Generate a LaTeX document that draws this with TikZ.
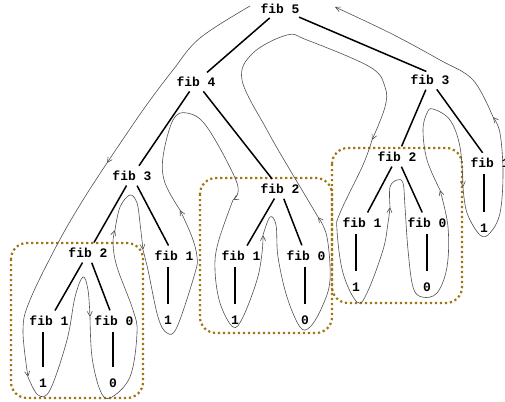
\documentclass[tikz,border=0pt]{standalone}
\usepackage{fontspec}
\newfontfamily\codefont{Liberation Mono}
\usetikzlibrary{arrows.meta}

\definecolor{boxgold}{RGB}{160,118,20}
\definecolor{tracegray}{RGB}{80,80,80}

\begin{document}
\begin{tikzpicture}[
        x=1pt, y=-1pt,
        call/.style={
            font=\codefont\bfseries\fontsize{13}{15}\selectfont,
            inner sep=2pt, text height=9.5pt, text depth=0pt
        },
        branch/.style={line width=1.5pt, shorten <=3pt, shorten >=4pt},
        stem/.style={line width=1.2pt, shorten <=4pt, shorten >=9pt},
        group/.style={draw=boxgold, line width=2.2pt,
            dash pattern=on 2.2pt off 2.8pt, rounded corners=16pt},
        trace/.style={draw=tracegray, line width=0.6pt,
            -{Straight Barb[length=5pt,width=5pt]}}
    ]
        \useasboundingbox (0,0) rectangle (505,401);

        % repeated fib 2 subtrees
        \draw[group] (11,243) rectangle (143,398);
        \draw[group] (200,178) rectangle (332,333);
        \draw[group] (332,148) rectangle (462,303);

        % calls
        \node[call] (f5) at (280,9) {fib 5};
        \node[call] (f4) at (196,82) {fib 4};
        \node[call] (f3r) at (430,80) {fib 3};
        \node[call] (f3l) at (132,176) {fib 3};
        \node[call] (f2m) at (280,189) {fib 2};
        \node[call] (f2r) at (397,157) {fib 2};
        \node[call] (f1r) at (490,163) {fib 1};
        \node[call] (f2bl) at (88,253) {fib 2};
        \node[call] (f1l) at (174,256) {fib 1};
        \node[call] (f1bl) at (49,321) {fib 1};
        \node[call] (f0bl) at (114,321) {fib 0};
        \node[call] (f1m) at (241,256) {fib 1};
        \node[call] (f0m) at (306,256) {fib 0};
        \node[call] (f1rr) at (362,223) {fib 1};
        \node[call] (f0rr) at (427,223) {fib 0};

        % values
        \node[call] (v1bl) at (43,383) {1};
        \node[call] (v0bl) at (113,383) {0};
        \node[call] (v1l) at (168,320) {1};
        \node[call] (v1m) at (235,320) {1};
        \node[call] (v0m) at (305,320) {0};
        \node[call] (v1rr) at (356,287) {1};
        \node[call] (v0rr) at (427,287) {0};
        \node[call] (v1r) at (484,228) {1};

        % tree
        \draw[branch] (f5) -- (f4);
        \draw[branch] (f5) -- (f3r.north);
        \draw[branch] (f4) -- (f3l);
        \draw[branch] (f4) -- (f2m);
        \draw[branch] (f3r) -- (f2r);
        \draw[branch] (f3r) -- (f1r);
        \draw[branch] (f3l) -- (f2bl);
        \draw[branch] (f3l) -- (f1l);
        \draw[branch] (f2bl) -- (f1bl);
        \draw[branch] (f2bl) -- (f0bl);
        \draw[branch] (f2m) -- (f1m);
        \draw[branch] (f2m) -- (f0m);
        \draw[branch] (f2r) -- (f1rr);
        \draw[branch] (f2r) -- (f0rr);
        \foreach \f/\v in {f1bl/v1bl, f0bl/v0bl, f1l/v1l, f1m/v1m,
                f0m/v0m, f1rr/v1rr, f0rr/v0rr, f1r/v1r}
            \draw[stem] (\v |- \f.south) -- (\v.north);

        % order of evaluation
        \draw[trace] plot[smooth, tension=0.6] coordinates {(250,6) (200,38) (173,70) (143,110) (107,163)};
        \draw[trace] plot[smooth, tension=0.6] coordinates {(107,163) (83,200) (58,243) (30,300) (23,330) (28,377)};
        \draw[trace] plot[smooth, tension=0.6] coordinates {(28,377) (38,395) (50,390) (67,340) (75,297) (83,277) (88,290) (90,317)};
        \draw[trace] plot[smooth, tension=0.6] coordinates {(90,317) (92,357) (100,390) (110,398) (130,377) (137,333) (133,310) (117,267) (113,243) (115,230)};
        \draw[trace] plot[smooth, tension=0.6] coordinates {(115,230) (120,207) (130,195) (137,203) (140,223) (143,250)};
        \draw[trace] plot[smooth, tension=0.6] coordinates {(143,250) (148,270) (158,317) (167,333) (177,327) (195,273) (197,257) (192,237) (180,210)};
        \draw[trace] plot[smooth, tension=0.6] coordinates {(180,210) (165,183) (163,157) (173,120) (187,113) (207,127) (237,183) (233,200)};
        \draw[trace] plot[smooth, tension=0.6] coordinates {(233,200) (218,243) (215,270) (220,303) (233,327) (243,317) (257,280) (262,253) (263,235)};
        \draw[trace] plot[smooth, tension=0.6] coordinates {(263,235) (270,217) (276,225) (278,257) (287,297) (300,327) (310,327) (322,307) (330,280) (327,237) (318,217)};
        \draw[trace] plot[smooth, tension=0.6] coordinates {(318,217) (302,190) (290,170) (267,130) (242,80) (253,53) (287,35) (307,40) (370,67) (385,87) (385,107) (372,140)};
        \draw[trace] plot[smooth, tension=0.6] coordinates {(372,140) (363,165) (340,213) (337,230) (343,273) (357,302) (367,293) (383,250) (388,223) (390,207)};
        \draw[trace] plot[smooth, tension=0.6] coordinates {(390,207) (390,187) (397,180) (403,183) (405,207) (408,250) (413,287) (422,297) (437,293) (447,267) (448,227) (440,190)};
        \draw[trace] plot[smooth, tension=0.6] coordinates {(440,190) (427,160) (423,130) (427,113) (433,109) (450,120) (460,147) (463,187)};
        \draw[trace] plot[smooth, tension=0.6] coordinates {(463,187) (467,213) (480,235) (490,233) (500,213) (503,173) (500,133) (493,117)};
        \draw[trace] plot[smooth, tension=0.6] coordinates {(493,117) (473,80) (440,60) (390,33) (335,7)};
    \end{tikzpicture}
\end{document}
